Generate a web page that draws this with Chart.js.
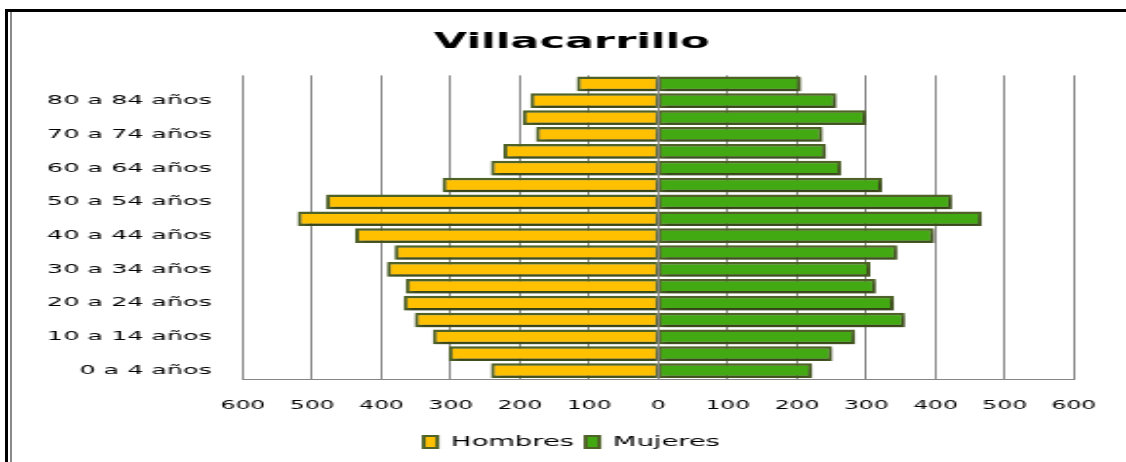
<!DOCTYPE html>
<html>
<head>
<meta charset="utf-8">
<script src="https://cdn.jsdelivr.net/npm/chart.js@4/dist/chart.umd.min.js"></script>
<style>
  html, body { margin: 0; padding: 0; background: #fff; }
  body { width: 1126px; height: 462px; position: relative; overflow: hidden; }
  /* the original picture is stretched sideways, so the chart is drawn narrow and scaled */
  #wrap { position: absolute; left: 0; top: 0; width: 577px; height: 462px;
          transform: scaleX(1.9515); transform-origin: 0 0; }
  .frameTop { position: absolute; left: 5px; top: 9px; width: 1121px; height: 3px; background: #000; }
  .frameLeft { position: absolute; left: 5px; top: 9px; width: 3px; height: 453px; background: #000; }
  .frameInner { position: absolute; left: 10px; top: 12px; width: 2px; height: 450px; background: #8a8a8a; }
</style>
</head>
<body>
<div id="wrap"><canvas id="chart" width="577" height="462"></canvas></div>
<div class="frameTop"></div>
<div class="frameLeft"></div>
<div class="frameInner"></div>
<script>
var ageGroups = ['0 a 4 años', '5 a 9 años', '10 a 14 años', '15 a 19 años', '20 a 24 años',
    '25 a 29 años', '30 a 34 años', '35 a 39 años', '40 a 44 años', '45 a 49 años',
    '50 a 54 años', '55 a 59 años', '60 a 64 años', '65 a 69 años', '70 a 74 años',
    '75 a 79 años', '80 a 84 años', '85 y más'];
var hombres = [242, 303, 326, 352, 368, 365, 392, 381, 438, 521, 480, 312, 242, 224, 177, 196, 185, 118];
var mujeres = [222, 251, 284, 356, 340, 314, 306, 345, 398, 467, 424, 323, 264, 242, 237, 300, 257, 206];
var xMin = -600, xMax = 600, xStep = 100;

var font = 'DejaVu Sans';

var shadowPlugin = {
    id: 'barShadow',
    beforeDatasetsDraw: function(chart) {
        var ctx = chart.ctx;
        ctx.save();
        ctx.shadowColor = 'rgba(0,0,0,0.4)';
        ctx.shadowOffsetX = 1;
        ctx.shadowOffsetY = 2;
        ctx.shadowBlur = 3;
    },
    afterDatasetsDraw: function(chart) {
        chart.ctx.restore();
    }
};

var ctx = document.getElementById('chart').getContext('2d');
new Chart(ctx, {
    type: 'bar',
    data: {
        labels: ageGroups,
        datasets: [{
            label: 'Hombres',
            data: hombres.map(function(v) { return -v; }),
            backgroundColor: '#FFC000',
            borderColor: '#4F6228',
            borderWidth: { top: 2.5, bottom: 2.5, left: 2, right: 1 },
            borderSkipped: false
        }, {
            label: 'Mujeres',
            data: mujeres,
            backgroundColor: '#43A912',
            borderColor: '#4F6228',
            borderWidth: { top: 2.5, bottom: 2.5, left: 1, right: 2 },
            borderSkipped: false
        }]
    },
    options: {
        indexAxis: 'y',
        responsive: false,
        animation: false,
        barPercentage: 0.87,
        categoryPercentage: 1,
        layout: { padding: { left: 9, right: 0, top: 0, bottom: 3 } },
        scales: {
            x: {
                stacked: true,
                min: xMin,
                max: xMax,
                ticks: {
                    stepSize: xStep,
                    padding: 0,
                    color: '#000',
                    font: { family: font, size: 12 },
                    callback: function(v) { return Math.abs(v); }
                },
                // invisible tick marks push the labels down without widening the side padding
                grid: { color: '#868686', lineWidth: 1, drawTicks: true, tickLength: 20, tickColor: 'rgba(0,0,0,0)' },
                border: { color: '#868686', width: 1 },
                afterFit: function(s) { s.height = 50; }
            },
            y: {
                stacked: true,
                reverse: true,
                ticks: {
                    autoSkip: false,
                    padding: 8,
                    color: '#000',
                    font: { family: font, size: 13 },
                    callback: function(v, i) { return i % 2 === 0 ? ageGroups[i] : ''; }
                },
                grid: { display: false },
                border: { display: false },
                afterFit: function(s) { s.width = 115.5; }
            },
            yRight: {
                type: 'category',
                position: 'right',
                labels: ageGroups,
                ticks: { display: false },
                grid: { display: false },
                border: { display: false },
                afterFit: function(s) { s.width = 26.7; }
            }
        },
        plugins: {
            title: {
                display: true,
                text: 'Villacarrillo',
                color: '#000',
                font: { family: font, size: 22, weight: 'bold' },
                padding: { top: 29, bottom: 20 }
            },
            legend: {
                position: 'bottom',
                labels: {
                    boxWidth: 7,
                    boxHeight: 12,
                    padding: 6,
                    color: '#000',
                    font: { family: font, size: 14 }
                }
            },
            tooltip: { enabled: false }
        }
    },
    plugins: [shadowPlugin]
});
</script>
</body>
</html>
